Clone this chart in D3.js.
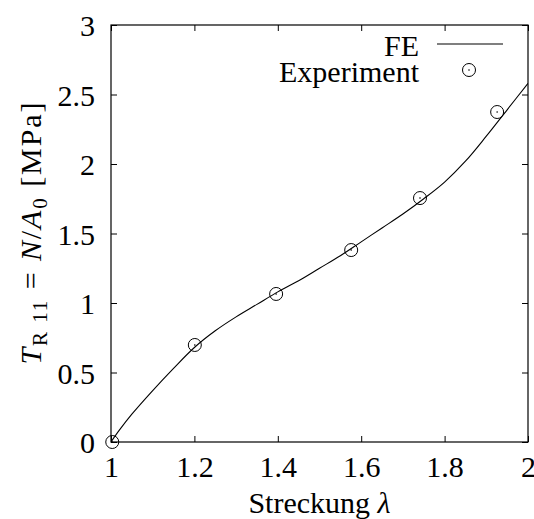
<!DOCTYPE html>
<html>
<head>
<meta charset="utf-8">
<script src="https://cdn.jsdelivr.net/npm/d3@7"></script>
<style>
  html, body { margin: 0; padding: 0; background: #fff; }
  svg { display: block; }
  text { font-family: "Liberation Serif", "Times New Roman", serif; fill: #000; }
</style>
</head>
<body>
<svg id="chart" width="534" height="519"></svg>
<script>
// ---- data ----
const feLambda = [1.0, 1.02, 1.05, 1.1, 1.15, 1.2, 1.25, 1.3, 1.35, 1.4, 1.45, 1.5, 1.55, 1.6, 1.65, 1.7, 1.75, 1.8, 1.85, 1.9, 1.95, 2.0];
const feStress = [0.0, 0.085, 0.20, 0.37, 0.53, 0.68, 0.80, 0.90, 0.99, 1.08, 1.16, 1.25, 1.34, 1.44, 1.54, 1.64, 1.75, 1.87, 2.02, 2.20, 2.39, 2.58];
const expLambda = [1.003, 1.201, 1.396, 1.576, 1.741, 1.926];
const expStress = [0.0, 0.698, 1.065, 1.381, 1.755, 2.374];
const xTicks = [1, 1.2, 1.4, 1.6, 1.8, 2];
const xTickLabels = ["1", "1.2", "1.4", "1.6", "1.8", "2"];
const yTicks = [0, 0.5, 1, 1.5, 2, 2.5, 3];
const yTickLabels = ["0", "0.5", "1", "1.5", "2", "2.5", "3"];
const legendLabels = ["FE", "Experiment"];

// ---- layout ----
const L = 111, R = 528, T = 25, B = 442;
const svg = d3.select("#chart");
const x = d3.scaleLinear().domain([1, 2]).range([L, R]);
const y = d3.scaleLinear().domain([0, 3]).range([B, T]);
const fs = 30;

svg.append("clipPath").attr("id", "clip")
  .append("rect").attr("x", L).attr("y", T).attr("width", R - L).attr("height", B - T);

// axes (ticks pointing inward, mirrored on all sides)
const tickLen = 6;
const xb = svg.append("g").attr("transform", `translate(0,${B})`)
  .call(d3.axisBottom(x).tickValues(xTicks).tickFormat((d, i) => xTickLabels[i])
    .tickSizeInner(-tickLen).tickSizeOuter(0).tickPadding(14));
const xt = svg.append("g").attr("transform", `translate(0,${T})`)
  .call(d3.axisTop(x).tickValues(xTicks).tickFormat("").tickSizeInner(-tickLen).tickSizeOuter(0));
const yl = svg.append("g").attr("transform", `translate(${L},0)`)
  .call(d3.axisLeft(y).tickValues(yTicks).tickFormat((d, i) => yTickLabels[i])
    .tickSizeInner(-tickLen).tickSizeOuter(0).tickPadding(16));
const yr = svg.append("g").attr("transform", `translate(${R},0)`)
  .call(d3.axisRight(y).tickValues(yTicks).tickFormat("").tickSizeInner(-tickLen).tickSizeOuter(0));

[xb, xt, yl, yr].forEach(g => {
  g.attr("font-family", null).attr("font-size", null);
  g.select(".domain").remove();
  g.selectAll("line").attr("stroke", "#000").attr("stroke-width", 1);
  g.selectAll("text").attr("font-size", fs).attr("fill", "#000");
});
xb.selectAll("text").attr("dy", "0.71em");
yl.selectAll("text").attr("dy", "0.35em");

// frame
svg.append("rect").attr("x", L).attr("y", T).attr("width", R - L).attr("height", B - T)
  .attr("fill", "none").attr("stroke", "#000").attr("stroke-width", 1.2);

// FE curve
const fePts = feLambda.map((l, i) => [l, feStress[i]]);
svg.append("path").datum(fePts)
  .attr("clip-path", "url(#clip)")
  .attr("fill", "none").attr("stroke", "#000").attr("stroke-width", 1.1)
  .attr("d", d3.line().x(d => x(d[0])).y(d => y(d[1])).curve(d3.curveCatmullRom.alpha(0.5)));

// experiment markers
const expPts = expLambda.map((l, i) => [l, expStress[i]]);
const mk = svg.append("g");
mk.selectAll("circle.o").data(expPts).join("circle")
  .attr("class", "o").attr("cx", d => x(d[0])).attr("cy", d => y(d[1])).attr("r", 6.5)
  .attr("fill", "none").attr("stroke", "#000").attr("stroke-width", 1);
mk.selectAll("circle.c").data(expPts).join("circle")
  .attr("class", "c").attr("cx", d => x(d[0])).attr("cy", d => y(d[1])).attr("r", 0.8)
  .attr("fill", "#000");

// legend
const lgX = 419;
svg.append("text").attr("x", lgX).attr("y", 45).attr("dy", "0.35em").attr("text-anchor", "end")
  .attr("font-size", fs).text(legendLabels[0]);
svg.append("line").attr("x1", 437).attr("x2", 503).attr("y1", 44).attr("y2", 44)
  .attr("stroke", "#000").attr("stroke-width", 1.1);
svg.append("text").attr("x", lgX).attr("y", 71).attr("dy", "0.35em").attr("text-anchor", "end")
  .attr("font-size", fs).text(legendLabels[1]);
svg.append("circle").attr("cx", 469).attr("cy", 70).attr("r", 6.5)
  .attr("fill", "none").attr("stroke", "#000");
svg.append("circle").attr("cx", 469).attr("cy", 70).attr("r", 0.8).attr("fill", "#000");

// x label
const xlab = svg.append("text").attr("x", (L + R) / 2).attr("y", 502).attr("dy", "0.35em")
  .attr("text-anchor", "middle").attr("font-size", fs);
xlab.append("tspan").text("Streckung ");
xlab.append("tspan").attr("font-style", "italic").text("λ");

// y label
const ylab = svg.append("text").attr("transform", `translate(30,${(T + B) / 2}) rotate(-90)`)
  .attr("dy", "0.35em").attr("text-anchor", "middle").attr("font-size", fs)
  .attr("textLength", 262).attr("lengthAdjust", "spacing");
ylab.append("tspan").attr("font-style", "italic").text("T");
ylab.append("tspan").attr("font-size", 21).attr("dy", "0.3em").text("R 11");
ylab.append("tspan").attr("dy", "-0.21em").text(" = ");
ylab.append("tspan").attr("font-style", "italic").text("N");
ylab.append("tspan").text("/");
ylab.append("tspan").attr("font-style", "italic").text("A");
ylab.append("tspan").attr("font-size", 21).attr("dy", "0.3em").text("0");
ylab.append("tspan").attr("dy", "-0.21em").text(" [MPa]");
</script>
</body>
</html>
